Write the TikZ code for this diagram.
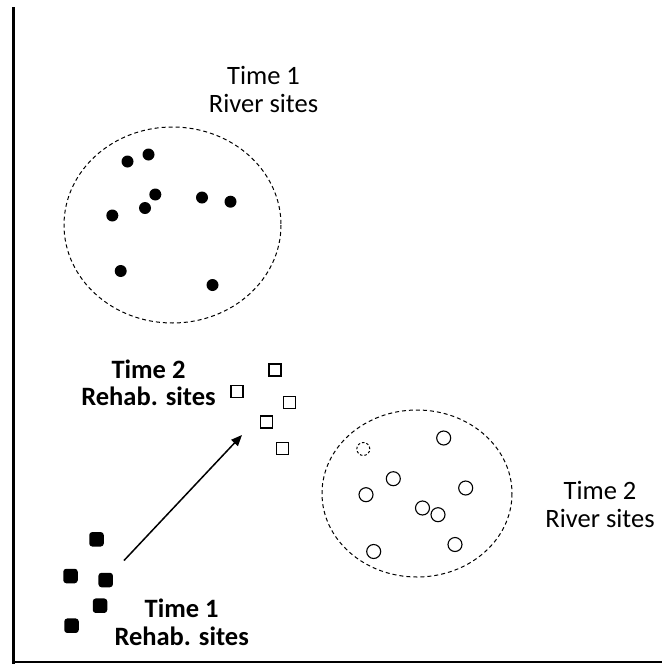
\documentclass[tikz,border=0pt]{standalone}
\usepackage{fontspec}
\setmainfont{Carlito}
\usetikzlibrary{arrows.meta}
\begin{document}
\begin{tikzpicture}[x=1pt,y=-1pt,
  every node/.style={inner sep=0pt, outer sep=0pt},
  lbl/.style={align=center, font=\fontsize{26.5}{27.5}\selectfont},
  blbl/.style={align=center, font=\fontsize{26.5}{27.5}\selectfont\bfseries},
  fdot/.style={circle, fill=black, minimum size=12pt},
  odot/.style={circle, draw=black, line width=1.1pt, minimum size=14pt},
  ddot/.style={circle, draw=black, line width=1pt, dash pattern=on 2.5pt off 2pt, minimum size=13pt},
  osq/.style={rectangle, draw=black, line width=1.2pt, minimum size=12pt},
  fsq/.style={rectangle, fill=black, rounded corners=3pt, minimum size=14.5pt},
  grp/.style={line width=1pt, dash pattern=on 4pt off 3pt},
  axis/.style={line width=3.5pt},
  baseaxis/.style={line width=1.5pt},
  arr/.style={-{Triangle[length=11pt,width=9pt]}, line width=1.5pt}
]
\useasboundingbox (0,0) rectangle (662,664);
% frame
\coordinate (ftop) at (13.5,7);
\coordinate (fcorner) at (13.5,664);
\coordinate (bl) at (12,662);
\coordinate (br) at (662,662);
\draw[axis] (ftop) -- (fcorner);
\draw[baseaxis] (bl) -- (br);

% group outlines
\draw[grp] (172.5,225) ellipse [x radius=108.5, y radius=98];
\draw[grp] (417,493.5) ellipse [x radius=95, y radius=83.5];

% labels (anchor base = baseline of last line)
\node[lbl, anchor=base] (t1r) at (263.5,112) {Time 1\\River sites};
\node[lbl, anchor=base] (t2r) at (600,527) {Time 2\\River sites};
\node[blbl, anchor=base] (t2h) at (148.5,405.5) {Time 2\\Rehab. sites};
\node[blbl, anchor=base] (t1h) at (181.7,645) {Time 1\\Rehab. sites};

% time 1 river sites
\node[fdot] (r1) at (127.5,161.5) {};
\node[fdot] (r2) at (148.5,154.5) {};
\node[fdot] (r3) at (155.3,194.5) {};
\node[fdot] (r4) at (145,208) {};
\node[fdot] (r5) at (112.3,215.5) {};
\node[fdot] (r6) at (202,197.5) {};
\node[fdot] (r7) at (230.5,201.7) {};
\node[fdot] (r8) at (120.7,271) {};
\node[fdot] (r9) at (212.5,285) {};

% time 2 river sites
\node[ddot] (s1) at (363.3,449) {};
\node[odot] (s2) at (443.7,438) {};
\node[odot] (s3) at (393.3,478.7) {};
\node[odot] (s4) at (366,494.7) {};
\node[odot] (s5) at (465.7,488) {};
\node[odot] (s6) at (422.5,508) {};
\node[odot] (s7) at (438,514.7) {};
\node[odot] (s8) at (455,544.5) {};
\node[odot] (s9) at (373.7,551.5) {};

% time 2 rehab sites
\node[osq] (q1) at (275,370) {};
\node[osq] (q2) at (237,391.7) {};
\node[osq] (q3) at (289.3,402.7) {};
\node[osq] (q4) at (266.5,422) {};
\node[osq] (q5) at (282.5,448.5) {};

% time 1 rehab sites
\node[fsq] (p1) at (96.5,539.3) {};
\node[fsq] (p2) at (70.5,576) {};
\node[fsq] (p3) at (105.7,580) {};
\node[fsq] (p4) at (100,605.7) {};
\node[fsq] (p5) at (71.5,625.7) {};

% arrow
\coordinate (astart) at (124,560.5);
\coordinate (aend) at (242,435);
\draw[arr] (astart) -- (aend);
\end{tikzpicture}
\end{document}
